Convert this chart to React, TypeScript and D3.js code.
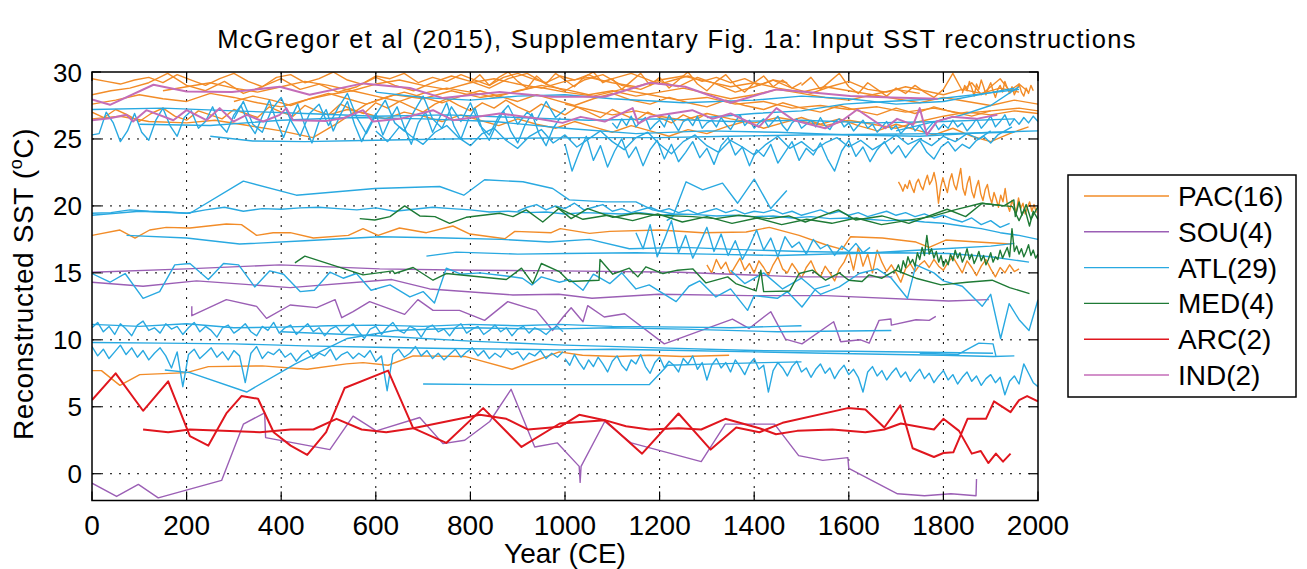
import * as d3 from "d3";

type Pt = [number, number];
type Series = { p?: Pt[]; y0?: number; dy?: number; v?: number[] };

// ---- data ----
const xTicks = [0, 200, 400, 600, 800, 1000, 1200, 1400, 1600, 1800, 2000];
const yTicks = [0, 5, 10, 15, 20, 25, 30];
const regions = ["PAC(16)", "SOU(4)", "ATL(29)", "MED(4)", "ARC(2)", "IND(2)"];
const regionColors = ["#F28C28", "#9B5FB5", "#29A9E1", "#1E7A35", "#E0161E", "#C46DB8"];

const PAC: Series[] = [
  { y0: 0, dy: 30, v: [29.5, 29.3, 29.1, 29.4, 29.6, 29.2, 29.8, 29.4, 29.0, 29.5, 29.9, 29.3, 28.9, 29.6, 29.8, 29.2, 29.5, 30.0, 29.4, 29.1, 29.7, 29.5, 29.9, 29.2, 29.6, 29.3, 29.8, 29.4, 29.0, 29.6, 29.9, 29.5, 29.2, 29.7, 29.4, 29.8, 29.3, 29.6, 29.9, 29.5, 29.1, 29.4, 29.7, 29.3, 29.6, 29.2, 29.5, 29.0, 29.4, 29.2] },
  { y0: 0, dy: 40, v: [28.3, 28.6, 28.8, 29.2, 29.9, 29.0, 28.6, 29.3, 28.4, 28.9, 29.5, 28.7, 29.1, 28.5, 28.9, 29.6, 29.0, 28.6, 29.2, 29.7, 29.3, 28.8, 29.5, 29.9, 29.1, 28.6, 29.4, 29.8, 29.0, 28.7, 29.3, 28.9, 29.6, 29.1, 28.5, 28.9, 29.4, 28.8, 28.4, 28.9, 29.3, 28.7, 28.5, 28.9, 28.6, 28.3, 28.7, 28.4, 28.8, 28.5] },
  { y0: 0, dy: 50, v: [27.6, 27.9, 28.3, 28.0, 27.8, 28.4, 28.1, 27.7, 27.4, 27.9, 28.3, 28.6, 28.2, 27.8, 28.4, 28.8, 28.5, 28.1, 28.6, 29.0, 28.7, 28.3, 28.6, 28.2, 28.5, 28.8, 28.4, 28.0, 28.3, 28.7, 28.4, 28.1, 27.9, 28.3, 28.0, 27.7, 28.1, 27.8, 27.5, 27.9, 27.6] },
  { p: [[0, 26.5], [60, 26.7], [120, 26.3], [200, 26.2], [260, 26.4], [330, 26.0], [400, 25.6], [467, 25.1], [520, 26.2], [580, 27.6], [640, 28.3], [700, 28.0], [760, 28.6], [820, 28.1], [880, 28.4], [940, 28.9], [1000, 28.5], [1060, 28.2], [1120, 28.7], [1180, 28.3], [1240, 27.9], [1300, 28.1], [1360, 27.6], [1420, 27.8], [1480, 27.3], [1540, 27.5], [1600, 27.2], [1660, 27.4], [1720, 27.0], [1780, 27.3], [1840, 26.9], [1900, 27.1], [1960, 27.3], [2000, 27.1]] },
  { y0: 0, dy: 25, v: [27.0, 26.6, 27.2, 26.8, 26.3, 26.9, 27.3, 26.7, 26.4, 27.1, 26.8, 26.5, 27.2, 26.9, 26.6, 27.4, 27.0, 26.7, 27.5, 27.1, 26.8, 27.6, 27.2, 26.9, 27.7, 27.3, 27.8, 27.4, 27.0, 27.6, 28.0, 27.5, 27.1, 27.7, 27.3, 27.9, 27.4, 27.0, 27.6, 27.2, 26.8, 27.4, 27.0, 26.6, 27.2, 26.8, 26.4, 27.0, 26.6, 26.2, 26.8, 26.4, 26.9] },
  { y0: 150, dy: 50, v: [28.6, 28.9, 29.2, 28.8, 28.5, 28.9, 29.3, 29.0, 28.6, 29.1, 29.4, 29.0, 28.7, 29.2, 29.5, 29.1, 28.8, 29.3, 29.6, 29.2, 28.9, 29.4, 29.7, 29.3, 28.9, 29.2, 28.8, 28.5, 28.9, 28.6, 28.3, 28.7, 28.4] },
  { y0: 500, dy: 40, v: [26.8, 27.2, 26.9, 26.5, 27.0, 26.7, 26.3, 26.8, 26.4, 26.0, 26.5, 26.1, 25.8, 26.3, 25.9, 25.5, 26.0, 25.6, 25.2, 25.7, 25.4, 25.9, 26.3, 25.8, 26.2, 26.6, 26.1, 26.5, 26.0, 25.6, 26.1, 25.7, 25.3, 25.8, 25.2, 24.8, 25.4, 25.9] },
  { y0: 1840, dy: 5, v: [28.4, 29.0, 28.6, 29.3, 28.8, 28.2, 29.1, 28.7, 29.4, 28.9, 28.3, 28.8, 29.2, 28.6, 28.1, 28.7, 29.0, 28.5, 29.3, 28.8, 28.4, 28.9, 28.3, 28.7, 29.1, 28.5, 28.2, 28.8, 28.4, 29.0, 28.6] },
  { y0: 300, dy: 40, v: [27.8, 28.2, 27.9, 27.5, 28.0, 28.4, 28.0, 27.6, 28.1, 28.5, 28.1, 27.7, 28.2, 28.6, 28.2, 27.8, 28.3, 27.9, 27.5, 28.0, 28.4, 27.9, 27.6, 28.1, 27.7, 27.4, 27.9, 27.5, 27.2, 27.7, 27.3, 27.0, 27.5, 27.1, 26.8, 27.3, 26.9, 27.4, 27.0, 26.7, 27.1] },
  { y0: 800, dy: 20, v: [29.2, 29.8, 29.0, 29.6, 30.0, 29.3, 28.8, 29.7, 29.1, 29.9, 29.4, 28.9, 29.6, 30.0, 29.2, 29.5, 28.7, 29.3, 29.9, 29.0, 29.6, 28.8, 29.4, 30.0, 29.1, 28.6, 29.3, 29.8, 29.0, 28.5, 29.2, 29.7, 28.9, 29.4, 28.8, 29.2] },
  { y0: 1500, dy: 20, v: [29.0, 29.6, 28.7, 29.3, 29.9, 28.9, 28.4, 29.2, 28.7, 28.2, 28.8, 28.4, 29.0, 28.5, 28.1, 28.7, 29.9, 28.6, 29.2, 28.3, 28.9, 29.5, 28.6, 29.1, 28.5] },
  { y0: 1000, dy: 50, v: [27.6, 27.2, 26.8, 27.1, 26.7, 26.4, 26.9, 26.5, 26.2, 26.6, 26.3, 26.0, 26.4, 26.1, 25.8, 26.3, 26.7, 27.0, 26.8, 27.1, 26.9] },
  { p: [[0, 17.8], [59, 18.2], [91, 17.6], [122, 18.2], [157, 18.4], [207, 18.35], [284, 18.65], [316, 18.6], [348, 17.8], [383, 18.0], [419, 18.0], [468, 17.6], [542, 17.8], [573, 18.3], [605, 17.8], [650, 18.35], [707, 18.0], [763, 18.5], [799, 17.9], [873, 17.55], [894, 18.1], [971, 18.0], [990, 18.3], [1052, 17.95], [1095, 18.1], [1200, 18.2], [1291, 18.0], [1383, 18.05], [1432, 18.4], [1495, 17.8], [1551, 17.1], [1586, 16.75], [1604, 17.7], [1671, 17.6], [1742, 17.3], [1770, 16.9], [1805, 17.45], [1872, 17.3], [1942, 17.15]] },
  { p: [[0, 7.7], [20, 7.7], [59, 6.6], [101, 7.4], [200, 7.55], [246, 8.0], [360, 8.05], [455, 7.8], [538, 8.2], [573, 8.3], [626, 8.1], [679, 8.8], [790, 8.75], [888, 7.8], [988, 9.1], [1037, 8.85], [1108, 8.75], [1178, 8.85], [1249, 8.75], [1347, 8.85]] },
  { y0: 1300, dy: 10, v: [15.6, 15.0, 16.0, 15.3, 15.8, 14.9, 15.5, 16.1, 15.2, 15.7, 15.0, 15.9, 15.4, 14.8, 15.6, 16.2, 15.3, 15.0, 15.7, 15.2, 14.6, 15.4, 15.9, 15.1, 14.7, 15.5, 15.0, 14.4, 15.3, 15.8, 16.6, 15.2, 16.9, 15.5, 16.4, 15.0, 16.7, 15.8, 15.1, 15.6, 15.0, 14.3, 15.3, 15.7, 15.1, 15.6, 15.9, 15.4, 16.0, 15.5, 15.2, 15.8, 16.2, 15.6, 15.0, 15.9, 15.4, 14.8, 15.5, 16.0, 15.3, 14.7, 15.4, 15.0, 15.6, 15.1, 15.3] },
  { y0: 1705, dy: 4.7, v: [21.8, 21.5, 21.1, 21.6, 21.3, 21.9, 21.4, 21.0, 21.7, 22.0, 21.5, 21.2, 21.8, 22.3, 21.6, 21.9, 22.5, 21.7, 20.2, 21.4, 22.1, 21.5, 21.0, 21.9, 22.4, 21.6, 21.2, 22.0, 22.8, 21.3, 20.8, 21.7, 22.2, 21.1, 20.6, 21.4, 21.9, 20.9, 20.4, 21.2, 21.6, 20.7, 20.2, 21.0, 20.5, 19.9, 20.8, 20.3, 21.3, 20.1, 19.6, 20.4, 20.0, 19.5, 20.6, 19.8, 20.2, 19.4, 19.9, 20.3, 19.6, 20.1, 19.5] },
];

const SOU: Series[] = [
  { p: [[0, -0.7], [52, -1.7], [98, -0.8], [140, -1.8], [274, -0.5], [320, 3.7], [365, 4.55], [367, 2.7], [503, 1.8], [552, 4.3], [601, 3.2], [693, 4.2], [742, 2.25], [788, 2.5], [841, 3.9], [886, 6.3], [936, 2.0], [984, 2.3], [1030, 0.55], [1032, -0.65], [1034, 0.55], [1084, 3.9], [1140, 2.3], [1288, 0.9], [1339, 3.7], [1443, 3.7], [1494, 1.35], [1545, 1.0], [1598, 1.2], [1600, 0.4], [1703, -1.5], [1760, -1.65], [1816, -1.5], [1869, -1.65], [1870, -0.4]] },
  { p: [[0, 15.05], [200, 15.3], [397, 15.6], [608, 15.3], [800, 15.2], [987, 15.15], [1242, 15.05], [1495, 14.7], [1692, 14.7]] },
  { p: [[0, 14.3], [108, 14.0], [221, 14.4], [419, 13.9], [634, 14.5], [714, 13.8], [890, 13.35], [987, 13.4], [1057, 13.1], [1198, 13.4], [1389, 13.3], [1551, 13.3], [1811, 12.9], [1896, 13.0]] },
  { p: [[211, 12.5], [211, 11.8], [284, 13.0], [348, 12.5], [369, 11.6], [419, 12.6], [475, 12.4], [514, 13.0], [528, 11.65], [552, 12.1], [587, 12.85], [661, 11.9], [689, 13.0], [721, 12.2], [777, 12.2], [830, 11.45], [879, 12.85], [939, 12.2], [974, 10.7], [996, 11.7], [1013, 12.4], [1038, 11.35], [1048, 12.55], [1083, 11.7], [1126, 11.95], [1210, 9.7], [1354, 11.55], [1389, 10.85], [1435, 12.1], [1466, 10.05], [1501, 9.7], [1568, 11.35], [1583, 9.85], [1625, 10.0], [1643, 9.75], [1664, 11.45], [1689, 11.55], [1690, 11.1], [1742, 11.5], [1770, 11.45], [1784, 11.75]] },
];

const ATL: Series[] = [
  { p: [[250, 25.2], [340, 24.85], [450, 24.8], [600, 24.9], [750, 25.0], [900, 25.05], [1050, 25.1], [1200, 25.1], [1350, 25.2], [1500, 25.3], [1650, 25.35], [1800, 25.4], [1950, 25.5]] },
  { y0: 0, dy: 40, v: [19.45, 19.5, 19.7, 19.6, 19.55, 19.45, 19.7, 19.9, 19.6, 19.8, 19.75, 19.85, 19.9, 19.8, 19.7, 19.85, 19.6, 19.75, 19.9, 19.8, 19.7, 19.55, 19.6, 19.5, 19.55, 19.4, 19.5, 19.45, 19.4, 19.5, 19.3, 19.4, 19.35, 19.25, 19.3, 19.2, 19.25, 19.1, 19.2, 19.05, 19.1, 19.0, 18.9, 18.95, 18.8, 18.7, 18.5, 18.3, 18.0, 17.8, 17.5] },
  { p: [[0, 19.3], [100, 19.6], [207, 19.45], [320, 21.85], [432, 20.8], [598, 21.3], [735, 21.45], [786, 20.8], [830, 21.95], [911, 21.8], [974, 21.3], [1009, 20.45], [1087, 20.3], [1150, 20.3], [1185, 19.7], [1230, 19.4]] },
  { p: [[1215, 18.9], [1228, 19.2], [1256, 21.8], [1291, 21.2], [1333, 21.7], [1365, 20.2], [1400, 22.0], [1435, 19.8], [1469, 21.15]] },
  { y0: 900, dy: 20, v: [19.6, 19.9, 20.1, 19.7, 20.0, 19.8, 20.2, 19.7, 19.9, 20.1, 19.6, 19.8, 19.5, 19.7, 19.9, 19.6, 19.8, 19.5, 19.7, 19.4, 19.6, 19.8, 19.5, 19.7, 19.4, 19.6, 19.5, 19.7, 19.4, 19.6, 19.3, 19.5, 19.7, 19.4, 19.6, 19.3, 19.5, 19.2, 19.4, 19.6, 19.3, 19.5, 19.2, 19.4, 19.1, 19.3, 19.0, 18.8, 19.1, 18.6, 18.9, 18.4, 18.7] },
  { p: [[73, 17.8], [200, 17.6], [312, 17.15], [450, 17.4], [608, 17.7], [750, 17.6], [866, 17.5], [966, 17.3], [1052, 17.5], [1136, 16.8], [1250, 16.9], [1400, 16.7], [1500, 16.6], [1650, 16.5], [1800, 16.8], [1900, 17.0], [1950, 17.2]] },
  { p: [[707, 16.25], [770, 16.55], [900, 16.4], [1000, 16.45], [1150, 16.5], [1300, 16.4], [1450, 16.3], [1600, 16.45], [1700, 16.5], [1811, 16.45], [1900, 16.2], [1981, 15.8]] },
  { p: [[0, 14.95], [38, 14.3], [70, 14.95], [108, 13.1], [143, 13.6], [175, 15.6], [207, 15.7], [246, 14.5], [278, 15.7], [310, 15.6], [344, 13.95], [376, 15.15], [405, 14.9], [440, 13.6], [470, 13.7], [503, 15.05], [531, 14.6], [559, 14.95], [590, 13.7], [630, 14.1], [672, 13.2], [700, 13.6], [724, 12.75], [749, 15.35], [780, 14.9], [820, 15.0], [880, 14.75], [910, 14.6], [930, 14.1], [950, 14.7], [988, 14.3], [1010, 14.5], [1038, 13.7], [1060, 14.9], [1095, 14.2], [1120, 15.0], [1150, 13.8], [1178, 14.1], [1235, 12.85], [1262, 14.0], [1285, 14.4], [1319, 13.2], [1350, 13.8], [1386, 12.2], [1400, 13.3], [1449, 13.1], [1470, 13.6], [1501, 12.45], [1530, 13.8], [1560, 14.1]] },
  { y0: 1150, dy: 15, v: [18.0, 16.8, 18.6, 16.2, 17.5, 18.9, 16.5, 17.8, 16.1, 17.2, 18.4, 16.6, 17.9, 16.3, 17.4, 16.0, 17.0, 18.2, 16.7, 17.6, 16.2, 17.7, 16.9, 17.3, 16.4, 17.5, 16.8, 17.1, 16.3, 17.0, 16.6, 17.2, 16.5, 16.9] },
  { p: [[1350, 15.2], [1380, 14.2], [1420, 15.0], [1460, 13.8], [1500, 14.6], [1540, 13.4], [1580, 13.95], [1622, 14.95], [1660, 15.3], [1690, 14.6], [1724, 13.1], [1742, 15.6], [1780, 15.0], [1800, 14.4], [1840, 14.0], [1882, 12.5], [1900, 13.4], [1921, 10.1], [1939, 12.7], [1960, 11.5], [1981, 10.7], [2000, 13.0]] },
  { y0: 1100, dy: 10, v: [26.2, 25.8, 26.5, 26.0, 26.7, 25.9, 26.3, 26.6, 25.7, 26.1, 26.4, 25.9, 26.8, 26.2, 25.6, 26.3, 26.5, 26.0, 26.7, 25.8, 26.2, 26.4, 25.9, 26.6, 26.1, 25.7, 26.3, 26.8, 26.0, 26.4, 25.8, 26.2, 26.5, 25.9, 26.3, 26.7, 26.0, 25.6, 26.2, 26.5, 25.8, 26.1, 26.4, 25.9, 26.6, 26.0, 25.7, 26.3, 26.5, 25.9, 26.2, 25.6, 26.0, 26.4, 25.8, 26.1, 25.5, 25.9, 26.3, 25.7, 26.0, 25.4, 25.8, 26.2, 25.6, 26.0, 25.5, 25.9, 26.3, 25.7, 26.1, 25.8, 26.4, 25.9, 26.2, 25.6, 26.0, 26.5, 25.8, 26.2, 26.7, 25.9, 26.3, 26.8, 26.0, 26.5, 26.1, 26.6, 26.2, 26.7, 26.3] },
  { y0: 0, dy: 15, v: [25.3, 25.4, 27.0, 26.2, 24.8, 25.6, 26.9, 25.5, 24.9, 26.4, 27.3, 26.0, 25.2, 26.6, 27.1, 25.8, 26.3, 27.4, 26.1, 25.5, 26.8, 27.5, 26.2, 25.4, 26.7, 27.9, 26.3, 25.1, 26.5, 27.6, 26.0, 24.7, 26.3, 27.2, 25.6, 26.8, 27.8, 26.1, 24.8, 25.9, 26.9, 25.3, 26.5, 27.4, 25.9, 24.6, 26.2, 27.0, 25.5, 26.6, 27.7, 26.0, 25.0, 26.4, 27.3, 25.7, 24.9, 26.1, 27.1, 25.6, 24.7, 26.0, 26.9, 25.4, 24.5, 25.8, 26.6] },
  { y0: 1000, dy: 15, v: [24.6, 22.6, 24.0, 25.2, 23.4, 24.5, 22.9, 24.1, 25.0, 23.6, 24.4, 23.0, 24.2, 24.9, 23.5, 24.6, 23.3, 24.0, 24.8, 23.6, 24.3, 23.1, 24.5, 25.1, 23.8, 24.4, 23.0, 24.2, 23.7, 24.6, 23.2, 24.0, 24.8, 23.4, 24.3, 23.8, 24.7, 23.5, 22.6, 24.1, 24.9, 23.7, 24.4, 23.3, 24.2, 24.8, 23.9, 24.5, 23.6, 24.3, 24.9, 24.0, 23.5, 24.4, 24.8, 24.1, 24.6, 24.3, 24.9, 25.2, 24.7, 25.3, 25.6, 25.9] },
  { y0: 600, dy: 25, v: [25.6, 24.8, 25.9, 25.2, 24.6, 25.5, 26.0, 25.1, 24.5, 25.4, 25.8, 24.9, 24.3, 25.2, 25.7, 24.7, 25.3, 24.4, 25.0, 25.6, 24.8, 24.2, 25.1, 25.5, 24.6, 23.9, 24.8, 25.3, 24.5, 24.0, 24.9, 24.4, 23.8, 24.6, 25.2, 24.3, 24.8, 24.1, 24.7, 25.1, 24.4, 24.9, 24.2, 24.7, 25.3, 24.6, 25.0, 24.5, 25.2, 24.8, 25.4, 25.0, 25.6] },
  { p: [[0, 27.2], [150, 27.3], [300, 27.1], [450, 26.9], [600, 26.7], [750, 26.8], [900, 26.6], [1050, 26.4], [1200, 26.5], [1350, 26.3], [1500, 26.4], [1650, 26.2], [1800, 26.3], [1950, 26.5]] },
  { p: [[100, 26.1], [250, 26.0], [400, 26.4], [550, 26.6], [700, 26.5], [850, 26.3], [1000, 25.8], [1150, 25.4], [1300, 25.6], [1450, 25.5], [1600, 25.3], [1750, 25.2], [1900, 25.5], [2000, 25.6]] },
  { p: [[600, 28.5], [700, 28.1], [800, 27.9], [900, 28.2], [1000, 28.3], [1100, 28.0], [1250, 27.7], [1400, 27.9], [1500, 28.2], [1600, 28.0], [1700, 27.6], [1800, 27.8], [1950, 28.8]] },
  { p: [[1300, 26.6], [1400, 26.9], [1500, 27.1], [1590, 27.6], [1680, 27.8], [1790, 28.0], [1890, 28.4], [1960, 28.7]] },
  { p: [[1700, 25.6], [1770, 26.2], [1840, 26.8], [1900, 27.5], [1960, 28.9]] },
  { y0: 300, dy: 20, v: [26.5, 27.8, 26.1, 25.5, 27.2, 28.1, 26.4, 25.2, 26.9, 27.6, 26.0, 27.3, 28.4, 26.6, 25.4, 26.8, 27.9, 26.2, 25.6, 27.0, 28.2, 26.5, 25.8, 27.4, 26.3, 27.7, 26.0, 25.3, 26.7, 27.5, 26.1, 27.0, 26.4, 27.8, 26.6, 27.2] },
  { p: [[0, 11.15], [100, 11.0], [200, 11.2], [300, 10.9], [400, 10.95], [500, 11.05], [600, 11.1], [700, 11.0], [800, 11.15], [900, 11.05], [988, 11.15], [1100, 11.0], [1249, 10.95], [1350, 10.9], [1450, 11.0], [1500, 11.05]] },
  { y0: 0, dy: 12, v: [10.9, 11.3, 10.6, 11.0, 10.4, 11.2, 10.8, 10.3, 11.1, 11.4, 10.7, 10.9, 10.5, 11.2, 10.8, 11.0, 10.4, 10.9, 11.3, 10.6, 11.0, 10.7, 10.2, 10.9, 11.1, 10.5, 10.8, 11.2, 10.6, 10.3, 11.0, 10.7, 11.3, 10.5, 10.9, 11.1, 10.4, 10.8, 11.2, 10.6, 10.9, 10.3, 10.8, 11.0, 10.5, 10.9, 11.2, 10.6, 10.1, 10.8, 11.0, 10.4, 10.9, 11.3, 10.7, 10.5, 11.0, 10.8, 10.2, 10.9, 11.1, 10.6, 10.8, 10.3, 10.9, 11.2, 10.5, 10.8, 11.0, 10.4, 10.7, 11.1, 10.6, 10.9, 10.3, 10.8, 11.0, 10.5, 10.9, 10.7, 10.4, 10.8, 11.0, 10.6] },
  { y0: 0, dy: 12, v: [9.5, 8.8, 9.3, 8.6, 9.1, 9.6, 8.9, 9.4, 8.7, 9.2, 8.5, 9.0, 9.4, 8.8, 7.9, 9.1, 6.5, 8.9, 9.3, 8.6, 9.0, 9.4, 8.7, 9.1, 8.5, 9.2, 8.8, 6.8, 9.0, 9.5, 8.6, 9.1, 8.9, 9.3, 8.7, 9.0, 8.4, 8.9, 9.2, 8.6, 9.0, 8.8, 9.3, 8.5, 8.9, 9.1, 8.6, 9.0, 8.7, 9.2, 8.4, 8.8, 6.2, 8.9, 9.3, 8.7, 9.0, 9.5, 8.8, 9.2, 8.6, 9.0, 8.5, 8.9, 9.3, 8.7, 9.1, 9.4, 8.8, 9.2, 8.6, 9.0, 8.7, 9.3, 8.9, 9.1, 8.5, 9.0, 8.8, 9.2, 8.6, 9.0, 8.7, 9.1] },
  { y0: 1000, dy: 10, v: [8.6, 8.1, 8.9, 8.3, 7.8, 8.5, 8.0, 8.7, 8.2, 7.6, 8.4, 8.8, 8.1, 7.7, 8.5, 8.2, 8.9, 8.0, 7.5, 8.3, 8.7, 7.9, 8.4, 8.1, 7.6, 8.6, 8.2, 8.8, 7.8, 8.3, 7.0, 8.1, 8.6, 7.9, 8.3, 7.6, 8.5, 8.0, 7.4, 8.2, 8.6, 7.8, 8.1, 6.1, 7.7, 8.3, 7.9, 7.3, 8.0, 8.4, 7.6, 7.9, 7.2, 7.8, 8.2, 7.5, 7.9, 7.1, 7.7, 8.1, 7.4, 7.8, 7.2, 6.1, 7.6, 8.0, 7.3, 7.7, 7.0, 7.5, 7.9, 7.2, 7.6, 6.9, 7.4, 7.8, 7.1, 7.5, 6.8, 7.3, 7.7, 7.0, 7.4, 6.7, 7.2, 7.6, 6.9, 7.3, 6.6, 7.1, 7.4, 6.8, 7.2, 5.9, 6.9, 7.3, 6.7, 8.2, 7.5, 6.8, 6.5] },
  { p: [[0, 9.8], [150, 9.75], [300, 9.7], [450, 9.55], [600, 9.45], [750, 9.35], [900, 9.3], [988, 9.25], [1100, 9.3], [1250, 9.2], [1400, 9.1], [1550, 9.0], [1700, 8.9], [1800, 8.85], [1906, 8.75], [1950, 8.8]] },
  { p: [[400, 10.6], [600, 10.3], [800, 9.9], [1000, 9.6], [1200, 9.4], [1400, 9.2], [1600, 9.15], [1800, 9.05], [1905, 9.0]] },
  { p: [[154, 7.75], [207, 7.55], [327, 6.1], [430, 8.2], [540, 10.1], [640, 10.7], [800, 10.9], [960, 10.8], [1100, 10.9], [1250, 10.8], [1450, 10.6], [1690, 10.7]] },
  { p: [[700, 6.7], [850, 6.65], [1000, 6.65], [1178, 6.65], [1217, 8.1], [1320, 8.2], [1420, 8.3], [1500, 8.35]] },
  { p: [[1750, 9.0], [1830, 8.9], [1875, 9.75], [1905, 9.7], [1911, 8.8]] },
];

const MED: Series[] = [
  { p: [[566, 19.05], [598, 18.95], [630, 19.2], [661, 20.0], [693, 19.25], [725, 19.2], [756, 18.7], [791, 19.15], [862, 19.45], [890, 19.2], [918, 19.7], [953, 18.8], [987, 19.8], [1013, 19.05], [1048, 19.8], [1101, 19.15], [1150, 19.45], [1199, 19.3], [1270, 19.2], [1319, 19.05], [1368, 19.3], [1431, 19.05], [1473, 19.25], [1508, 18.8], [1578, 19.7], [1614, 18.95], [1670, 19.25], [1727, 18.7], [1808, 19.75], [1847, 19.2], [1882, 20.2], [1928, 20.0], [1949, 20.45], [1952, 19.2], [1960, 20.3], [1966, 19.3], [1975, 20.1], [1985, 19.0], [2000, 19.95]] },
  { p: [[980, 19.95], [1006, 19.5], [1038, 19.0], [1090, 19.3], [1143, 18.9], [1196, 19.4], [1248, 18.8], [1300, 19.2], [1353, 18.7], [1406, 19.1], [1458, 18.6], [1511, 19.0], [1564, 18.7], [1616, 19.1], [1669, 18.6], [1721, 18.9], [1774, 19.2], [1824, 19.7], [1880, 20.2], [1946, 19.95], [1960, 18.9], [1972, 19.8], [1982, 18.5], [1990, 19.6], [2000, 19.0]] },
  { p: [[429, 15.75], [450, 16.25], [573, 14.85], [636, 15.15], [640, 14.95], [679, 15.4], [721, 14.45], [749, 14.95], [876, 14.5], [908, 15.35], [932, 14.2], [950, 15.7], [988, 15.1], [1009, 14.35], [1072, 14.45], [1074, 16.0], [1101, 14.9], [1136, 15.35], [1154, 14.7], [1171, 15.45], [1207, 14.95], [1238, 15.2], [1270, 15.3], [1298, 14.25], [1344, 14.7], [1361, 14.2], [1404, 13.65], [1414, 15.2], [1420, 13.6], [1475, 13.65], [1495, 14.95], [1523, 15.2], [1551, 14.45], [1580, 15.0], [1600, 14.45], [1628, 14.35], [1643, 14.85], [1670, 14.6], [1699, 15.2], [1742, 14.6], [1795, 14.1], [1850, 14.3], [1903, 14.45], [1940, 13.9], [1982, 13.45]] },
  { y0: 1700, dy: 5, v: [15.2, 15.6, 15.0, 15.9, 15.4, 16.2, 15.7, 16.0, 15.5, 16.5, 16.0, 16.9, 16.3, 17.8, 16.4, 16.8, 16.1, 16.6, 15.8, 16.3, 15.5, 16.0, 15.6, 16.4, 15.9, 16.7, 16.1, 16.5, 15.8, 16.2, 16.8, 16.0, 16.4, 15.7, 16.1, 16.6, 15.9, 16.3, 15.6, 16.0, 16.5, 15.8, 16.2, 16.0, 16.7, 16.1, 16.5, 16.9, 16.2, 18.3, 16.6, 17.0, 16.4, 16.8, 16.2, 16.6, 17.1, 16.3, 16.7, 16.1, 16.4] },
];

const ARC: Series[] = [
  { p: [[0, 5.5], [50, 7.5], [108, 4.7], [161, 6.9], [207, 2.8], [246, 2.1], [284, 4.5], [316, 5.8], [351, 5.6], [384, 3.1], [420, 2.1], [455, 1.4], [495, 3.1], [534, 6.4], [626, 7.7], [679, 3.4], [749, 2.3], [827, 4.9], [908, 2.0], [989, 3.75], [1084, 4.0], [1163, 1.5], [1240, 4.5], [1308, 1.8], [1362, 3.45], [1411, 3.1], [1460, 3.8], [1598, 4.9], [1635, 4.8], [1675, 3.45], [1709, 5.1], [1735, 1.9], [1780, 1.25], [1800, 1.55], [1821, 1.6], [1851, 4.1], [1890, 4.1], [1907, 5.4], [1942, 4.6], [1960, 5.5], [1977, 5.8], [2000, 5.4]] },
  { p: [[108, 3.3], [161, 3.1], [207, 3.3], [355, 3.1], [420, 3.3], [468, 3.3], [517, 4.1], [570, 3.3], [622, 3.1], [679, 3.4], [770, 4.05], [820, 4.4], [876, 4.1], [922, 3.3], [989, 3.5], [1030, 4.4], [1084, 4.0], [1129, 3.55], [1178, 3.3], [1240, 3.4], [1288, 3.3], [1339, 4.1], [1411, 3.4], [1446, 2.95], [1491, 3.2], [1565, 3.3], [1635, 3.1], [1675, 3.3], [1710, 3.75], [1780, 3.3], [1800, 4.1], [1833, 3.2], [1860, 1.5], [1879, 1.7], [1895, 0.8], [1911, 1.5], [1926, 0.9], [1942, 1.5]] },
];

const IND: Series[] = [
  { p: [[0, 27.95], [38, 27.55], [130, 29.05], [200, 28.55], [296, 28.5], [397, 28.9], [460, 28.3], [573, 29.15], [672, 28.8], [742, 28.05], [862, 28.5], [972, 28.15], [1084, 28.15], [1180, 29.2], [1254, 28.9], [1350, 27.7], [1447, 28.7], [1512, 28.5], [1603, 28.2], [1691, 28.1], [1788, 28.0]] },
  { p: [[0, 26.4], [38, 26.55], [73, 26.8], [87, 26.3], [115, 27.15], [172, 26.4], [200, 27.15], [242, 26.4], [270, 27.3], [299, 26.3], [327, 26.8], [362, 26.3], [397, 26.8], [411, 27.3], [425, 26.4], [496, 26.35], [531, 26.55], [573, 27.15], [594, 26.3], [651, 26.5], [721, 27.15], [763, 26.4], [862, 26.9], [937, 26.55], [995, 26.2], [1033, 26.65], [1084, 26.3], [1143, 27.3], [1155, 26.15], [1180, 26.65], [1269, 27.15], [1312, 26.5], [1350, 26.9], [1410, 25.9], [1447, 27.3], [1484, 26.4], [1550, 25.8], [1587, 26.4], [1618, 27.2], [1677, 25.8], [1702, 26.5], [1736, 26.05], [1750, 27.3], [1765, 25.3], [1786, 26.3], [1818, 26.65], [1870, 26.5], [1914, 26.8]] },
];

const groups = [PAC, SOU, ATL, MED, ARC, IND];
const widths = [1.4, 1.4, 1.4, 1.4, 2, 2];

// ---- layout ----
const W = 1307;
const H = 569;
const left = 92, right = 1038, top = 72, bottom = 500.5;
const FONT = "'Liberation Sans', Arial, sans-serif";

const x = d3.scaleLinear().domain([0, 2000]).range([left, right]);
const y = d3.scaleLinear().domain([-2, 30]).range([bottom, top]);
const line = d3.line<Pt>().x((d) => x(d[0])).y((d) => y(d[1]));

function toPts(s: Series): Pt[] {
  if (s.p) return s.p;
  return (s.v || []).map((val, i) => [(s.y0 || 0) + i * (s.dy || 1), val] as Pt);
}

export default function App() {
  const tick = 9;
  const legX = 1068, legY = 175, legW = 228, legH = 222;
  const rowH = 35.8;
  return (
    <svg width={W} height={H} style={{ position: "absolute", left: 0, top: 0, background: "#fff" }} fontFamily={FONT}>
      <rect width={W} height={H} fill="#fff" />
      <defs>
        <clipPath id="plot">
          <rect x={left} y={top} width={right - left} height={bottom - top} />
        </clipPath>
      </defs>
      <text x={677} y={48} textAnchor="middle" fontSize={25.5} letterSpacing={1.3} fill="#000">
        McGregor et al (2015), Supplementary Fig. 1a: Input SST reconstructions
      </text>

      {/* grid */}
      <g stroke="#000" strokeWidth={1} strokeDasharray="2,7">
        {xTicks.slice(1, -1).map((t) => (
          <line key={"gx" + t} x1={x(t)} x2={x(t)} y1={top} y2={bottom} />
        ))}
        {yTicks.slice(0, -1).map((t) => (
          <line key={"gy" + t} x1={left} x2={right} y1={y(t)} y2={y(t)} />
        ))}
      </g>

      {/* series */}
      <g clipPath="url(#plot)" fill="none" strokeLinejoin="round">
        {groups.map((g, gi) =>
          g.map((s, si) => (
            <path key={gi + "-" + si} d={line(toPts(s)) || ""} stroke={regionColors[gi]} strokeWidth={widths[gi]} />
          ))
        )}
      </g>

      {/* axes box and ticks */}
      <rect x={left} y={top} width={right - left} height={bottom - top} fill="none" stroke="#000" strokeWidth={1.5} />
      <g stroke="#000" strokeWidth={1.2}>
        {xTicks.map((t) => (
          <g key={"tx" + t}>
            <line x1={x(t)} x2={x(t)} y1={bottom} y2={bottom - tick} />
            <line x1={x(t)} x2={x(t)} y1={top} y2={top + tick} />
          </g>
        ))}
        {yTicks.map((t) => (
          <g key={"ty" + t}>
            <line x1={left} x2={left + tick} y1={y(t)} y2={y(t)} />
            <line x1={right} x2={right - tick} y1={y(t)} y2={y(t)} />
          </g>
        ))}
      </g>
      <g fill="#000">
        {xTicks.map((t) => (
          <text key={"lx" + t} x={x(t)} y={535} textAnchor="middle" fontSize={28}>{t}</text>
        ))}
        {yTicks.map((t) => (
          <text key={"ly" + t} x={82} y={y(t) + 9.5} textAnchor="end" fontSize={26}>{t}</text>
        ))}
      </g>
      <text x={565} y={563} textAnchor="middle" fontSize={28} fill="#000">Year (CE)</text>
      <text transform="translate(33,284) rotate(-90)" textAnchor="middle" fontSize={28} letterSpacing={0.6} fill="#000">
        Reconstructed SST (<tspan fontSize={18} dy={-11}>o</tspan><tspan dy={11}>C)</tspan>
      </text>

      {/* legend */}
      <rect x={legX} y={legY} width={legW} height={legH} fill="#fff" stroke="#000" strokeWidth={1.5} />
      {regions.map((r, i) => (
        <g key={r}>
          <line x1={1084} x2={1169} y1={legY + 21 + i * rowH} y2={legY + 21 + i * rowH} stroke={regionColors[i]} strokeWidth={1.4} />
          <text x={1178} y={legY + 21 + i * rowH + 10} fontSize={28} fill="#000">{r}</text>
        </g>
      ))}
    </svg>
  );
}
